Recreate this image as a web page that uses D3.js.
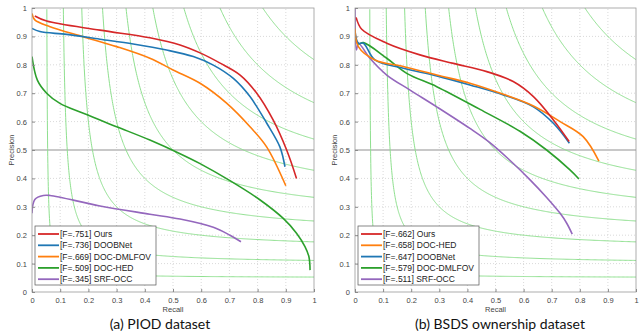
<!DOCTYPE html>
<html>
<head>
<meta charset="utf-8">
<script src="https://cdn.jsdelivr.net/npm/d3@7"></script>
<style>
  body { margin: 0; background: #fff; }
  svg text { font-family: "Liberation Sans", Arial, sans-serif; }
</style>
</head>
<body>
<div id="chart"></div>
<script>
// iso-F contour levels and axis ticks
const isoF = [0.1, 0.2, 0.3, 0.4, 0.5, 0.6, 0.7, 0.8, 0.9];
const ticks = [0, 0.1, 0.2, 0.3, 0.4, 0.5, 0.6, 0.7, 0.8, 0.9, 1];
const tickLabels = ["0", "0.1", "0.2", "0.3", "0.4", "0.5", "0.6", "0.7", "0.8", "0.9", "1"];

// (a) PIOD -- [recall, precision]
const piodNames = ["[F=.751] Ours", "[F=.736] DOOBNet", "[F=.669] DOC-DMLFOV", "[F=.509] DOC-HED", "[F=.345] SRF-OCC"];
const piodColors = ["#d62728", "#1f77b4", "#ff7f0e", "#2ca02c", "#9467bd"];
const piodOurs = [[0.01, 0.972], [0.052, 0.954], [0.241, 0.922], [0.418, 0.895], [0.525, 0.870], [0.596, 0.842],
  [0.667, 0.806], [0.738, 0.764], [0.797, 0.70], [0.855, 0.606], [0.903, 0.50], [0.938, 0.40]];
const piodDoobnet = [[0, 0.928], [0.028, 0.917], [0.123, 0.907], [0.241, 0.890], [0.359, 0.873], [0.477, 0.852],
  [0.572, 0.829], [0.643, 0.799], [0.714, 0.752], [0.773, 0.688], [0.832, 0.595], [0.879, 0.511], [0.897, 0.441]];
const piodDmlfov = [[0, 0.981], [0.01, 0.958], [0.064, 0.934], [0.181, 0.899], [0.30, 0.864], [0.418, 0.823],
  [0.50, 0.782], [0.596, 0.735], [0.69, 0.665], [0.773, 0.582], [0.832, 0.511], [0.90, 0.374]];
const piodHed = [[0, 0.829], [0.019, 0.746], [0.052, 0.70], [0.099, 0.664], [0.182, 0.629], [0.30, 0.582],
  [0.418, 0.535], [0.525, 0.487], [0.596, 0.452], [0.702, 0.392], [0.809, 0.324], [0.891, 0.259], [0.938, 0.207],
  [0.968, 0.16], [0.982, 0.124], [0.986, 0.077]];
const piodSrf = [[0, 0.277], [0.01, 0.326], [0.04, 0.34], [0.064, 0.34], [0.241, 0.303], [0.418, 0.274],
  [0.525, 0.257], [0.643, 0.228], [0.702, 0.20], [0.741, 0.177]];

// (b) BSDS ownership -- [recall, precision]
const bsdsNames = ["[F=.662] Ours", "[F=.658] DOC-HED", "[F=.647] DOOBNet", "[F=.579] DOC-DMLFOV", "[F=.511] SRF-OCC"];
const bsdsColors = ["#d62728", "#ff7f0e", "#1f77b4", "#2ca02c", "#9467bd"];
const bsdsOurs = [[0.004, 0.967], [0.024, 0.925], [0.113, 0.876], [0.231, 0.835], [0.35, 0.805], [0.469, 0.776],
  [0.563, 0.741], [0.635, 0.688], [0.706, 0.606], [0.762, 0.53]];
const bsdsHed = [[0, 0.928], [0.012, 0.864], [0.071, 0.817], [0.172, 0.794], [0.291, 0.764], [0.409, 0.735],
  [0.528, 0.696], [0.635, 0.655], [0.73, 0.60], [0.812, 0.547], [0.868, 0.461]];
const bsdsDoobnet = [[0, 0.92], [0.012, 0.876], [0.03, 0.876], [0.071, 0.817], [0.172, 0.788], [0.291, 0.761],
  [0.409, 0.729], [0.528, 0.694], [0.635, 0.652], [0.706, 0.594], [0.763, 0.524]];
const bsdsDmlfov = [[0, 0.90], [0.012, 0.874], [0.03, 0.878], [0.113, 0.823], [0.184, 0.77], [0.291, 0.723],
  [0.445, 0.643], [0.587, 0.566], [0.682, 0.50], [0.765, 0.43], [0.797, 0.398]];
const bsdsSrf = [[0, 1.0], [0.005, 0.852], [0.012, 0.876], [0.053, 0.823], [0.113, 0.764], [0.196, 0.711],
  [0.291, 0.652], [0.409, 0.576], [0.48, 0.526], [0.552, 0.463], [0.623, 0.395], [0.682, 0.333],
  [0.73, 0.277], [0.753, 0.243], [0.773, 0.204]];

const width = 640, height = 332;

const svg = d3.select("#chart").append("svg")
  .attr("width", width)
  .attr("height", height);

function drawPanel(opts) {
  const xScale = d3.scaleLinear().domain([0, 1]).range([opts.x0, opts.x1]);
  const yScale = d3.scaleLinear().domain([0, 1]).range([292, 8]);
  const g = svg.append("g");

  // clip for everything inside the axes box
  g.append("clipPath").attr("id", opts.id)
    .append("rect")
      .attr("x", opts.x0).attr("y", 8)
      .attr("width", opts.x1 - opts.x0).attr("height", 284);

  const inner = g.append("g").attr("clip-path", `url(#${opts.id})`);

  // dotted grid
  inner.selectAll(".gx").data(ticks.slice(1, -1)).enter().append("line")
    .attr("x1", d => xScale(d)).attr("x2", d => xScale(d))
    .attr("y1", yScale(0)).attr("y2", yScale(1))
    .attr("stroke", "#cfcfcf").attr("stroke-width", 0.8).attr("stroke-dasharray", "1,2");
  inner.selectAll(".gy").data(ticks.slice(1, -1)).enter().append("line")
    .attr("x1", xScale(0)).attr("x2", xScale(1))
    .attr("y1", d => yScale(d)).attr("y2", d => yScale(d))
    .attr("stroke", "#cfcfcf").attr("stroke-width", 0.8).attr("stroke-dasharray", "1,2");

  // P = 0.5 reference line
  inner.append("line")
    .attr("x1", xScale(0)).attr("x2", xScale(1))
    .attr("y1", yScale(0.5)).attr("y2", yScale(0.5))
    .attr("stroke", "#c8c8c8").attr("stroke-width", 2);

  // iso-F curves: P = F R / (2R - F)
  const isoLine = d3.line().x(d => xScale(d[0])).y(d => yScale(d[1]));
  isoF.forEach(f => {
    const pts = [];
    for (let i = 0; i <= 400; i++) {
      const r = f / 2 + 0.0005 + (1 - f / 2) * Math.pow(i / 400, 2);
      const p = f * r / (2 * r - f);
      if (p <= 1.05) pts.push([r, p]);
    }
    inner.append("path")
      .attr("d", isoLine(pts))
      .attr("fill", "none")
      .attr("stroke", "#8fe08f")
      .attr("stroke-width", 1);
  });

  // PR curves
  const lineGenerator = d3.line()
    .x(d => xScale(d[0]))
    .y(d => yScale(d[1]))
    .curve(d3.curveCatmullRom.alpha(0.5));
  // draw from weakest to strongest so "Ours" ends up on top
  opts.series.slice().reverse().forEach((s, i) => {
    const c = opts.colors[opts.series.length - 1 - i];
    inner.append("path")
      .attr("d", lineGenerator(s))
      .attr("fill", "none")
      .attr("stroke", c)
      .attr("stroke-width", 1.6);
  });

  // axes box
  g.append("rect")
    .attr("x", opts.x0).attr("y", 8)
    .attr("width", opts.x1 - opts.x0).attr("height", 284)
    .attr("fill", "none").attr("stroke", "#9a9a9a").attr("stroke-width", 0.8);

  const xAxis = g.append("g")
    .attr("transform", `translate(0, ${yScale(0)})`)
    .call(d3.axisBottom(xScale).tickValues(ticks).tickFormat((d, i) => tickLabels[i]).tickSizeInner(-3).tickSizeOuter(0).tickPadding(6));
  const yAxis = g.append("g")
    .attr("transform", `translate(${xScale(0)}, 0)`)
    .call(d3.axisLeft(yScale).tickValues(ticks).tickFormat((d, i) => tickLabels[i]).tickSizeInner(-3).tickSizeOuter(0).tickPadding(5));
  [xAxis, yAxis].forEach(a => {
    a.select(".domain").remove();
    a.selectAll(".tick line").attr("stroke", "#8a8a8a");
    a.selectAll(".tick text").attr("fill", "#444").style("font-size", "7.5px");
  });

  g.append("text")
    .attr("x", (opts.x0 + opts.x1) / 2).attr("y", 312)
    .attr("text-anchor", "middle")
    .attr("fill", "#444").style("font-size", "7.5px")
    .text("Recall");
  g.append("text")
    .attr("transform", `translate(${opts.x0 - 18}, 150) rotate(-90)`)
    .attr("text-anchor", "middle")
    .attr("fill", "#444").style("font-size", "7.5px")
    .text("Precision");

  // legend
  const lg = g.append("g").attr("transform", `translate(${opts.x0 + 3}, 226)`);
  lg.append("rect")
    .attr("width", 121).attr("height", 59)
    .attr("fill", "#fff").attr("stroke", "#555").attr("stroke-width", 0.7);
  opts.names.forEach((n, i) => {
    const row = lg.append("g").attr("transform", `translate(0, ${8 + i * 11.3})`);
    row.append("line")
      .attr("x1", 3).attr("x2", 24)
      .attr("stroke", opts.colors[i]).attr("stroke-width", 1.8);
    row.append("text")
      .attr("x", 25).attr("y", 3)
      .attr("fill", "#222").style("font-size", "8.5px")
      .text(n);
  });

  // caption
  svg.append("text")
    .attr("x", opts.captionX).attr("y", 329)
    .attr("text-anchor", "middle")
    .style("font-family", "Lato, 'Open Sans', sans-serif")
    .style("font-size", "14px")
    .attr("fill", "#111")
    .text(opts.caption);
}

drawPanel({
  id: "clipA", x0: 32, x1: 314,
  series: [piodOurs, piodDoobnet, piodDmlfov, piodHed, piodSrf],
  names: piodNames, colors: piodColors,
  caption: "(a) PIOD dataset", captionX: 160
});

drawPanel({
  id: "clipB", x0: 355, x1: 636,
  series: [bsdsOurs, bsdsHed, bsdsDoobnet, bsdsDmlfov, bsdsSrf],
  names: bsdsNames, colors: bsdsColors,
  caption: "(b) BSDS ownership dataset", captionX: 500
});
</script>
</body>
</html>
